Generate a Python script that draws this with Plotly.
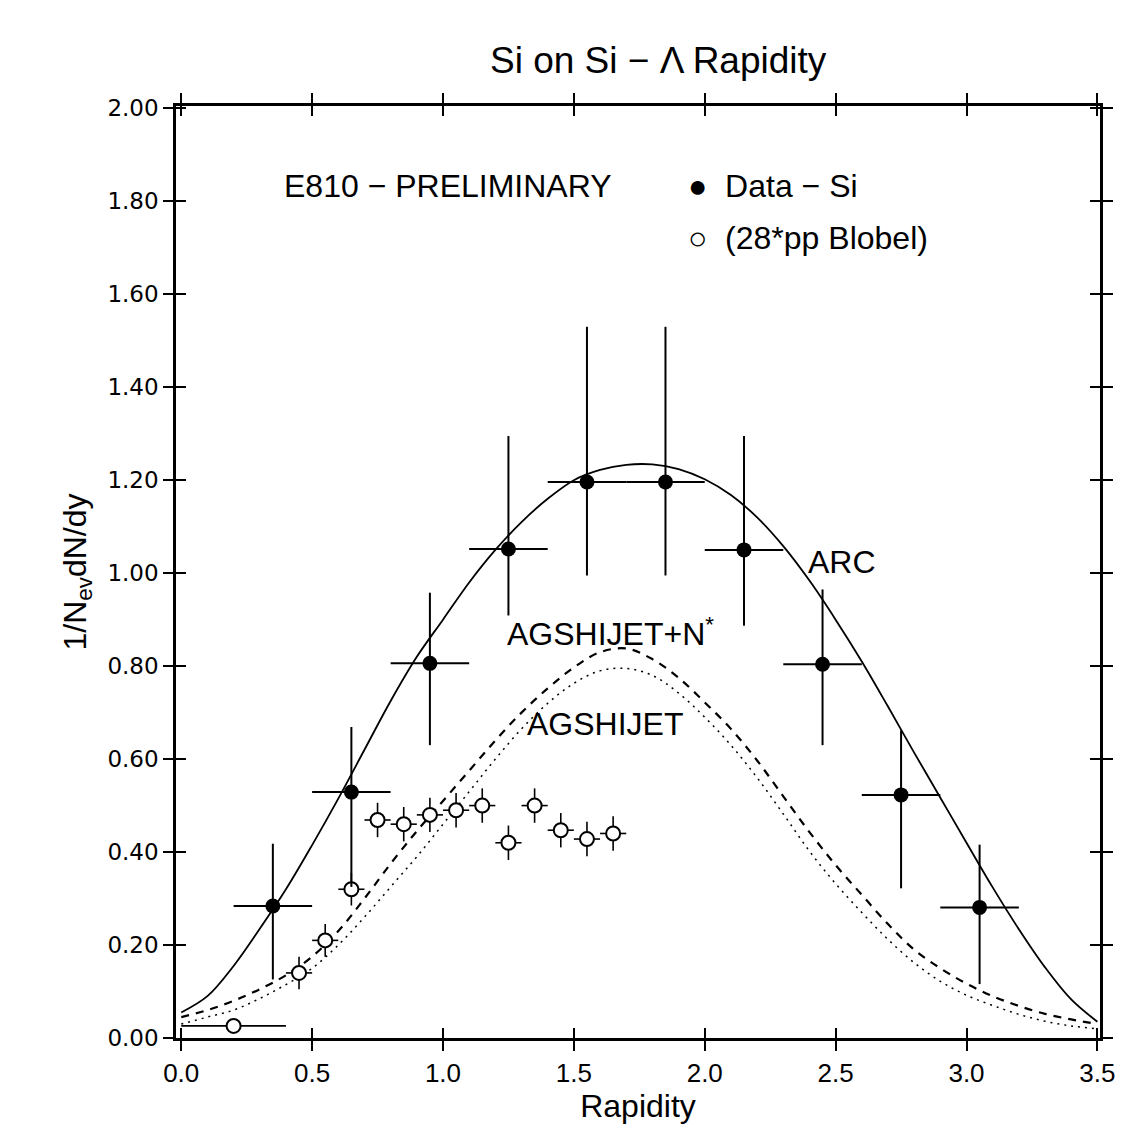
import plotly.graph_objects as go

# ---------------- data ----------------
# Filled points: Data - Si
data_x = [0.35, 0.65, 0.95, 1.25, 1.55, 1.85, 2.15, 2.45, 2.75, 3.05]
data_y = [0.284, 0.529, 0.806, 1.052, 1.196, 1.196, 1.050, 0.804, 0.523, 0.281]
data_err_plus = [0.134, 0.140, 0.152, 0.243, 0.334, 0.334, 0.245, 0.161, 0.139, 0.135]
data_err_minus = [0.158, 0.204, 0.176, 0.143, 0.201, 0.201, 0.163, 0.174, 0.201, 0.165]
data_xerr = [0.15] * 10

# Open points: 28*pp Blobel
pp_x = [0.20, 0.45, 0.55, 0.65, 0.75, 0.85, 0.95, 1.05, 1.15, 1.25, 1.35, 1.45, 1.55, 1.65]
pp_y = [0.026, 0.140, 0.210, 0.320, 0.469, 0.460, 0.480, 0.490, 0.500, 0.420, 0.500, 0.447, 0.428, 0.440]
pp_xerr = [0.20, 0.05, 0.05, 0.05, 0.05, 0.05, 0.05, 0.05, 0.05, 0.05, 0.05, 0.05, 0.05, 0.05]
pp_yerr = [0.0, 0.035, 0.035, 0.035, 0.037, 0.037, 0.037, 0.037, 0.037, 0.037, 0.037, 0.037, 0.037, 0.037]

# Model curves
curve_x = [0.0, 0.1, 0.2, 0.3, 0.4, 0.5, 0.6, 0.7, 0.8, 0.9, 1.0, 1.1, 1.2, 1.3, 1.4, 1.5, 1.6, 1.7,
           1.8, 1.9, 2.0, 2.1, 2.2, 2.3, 2.4, 2.5, 2.6, 2.7, 2.8, 2.9, 3.0, 3.1, 3.2, 3.3, 3.4, 3.5]
arc_y = [0.055, 0.09, 0.155, 0.235, 0.32, 0.415, 0.515, 0.62, 0.725, 0.82, 0.90, 0.98, 1.05, 1.11, 1.16, 1.20, 1.222, 1.233,
         1.234, 1.224, 1.202, 1.168, 1.12, 1.058, 0.984, 0.90, 0.81, 0.713, 0.614, 0.517, 0.42, 0.324, 0.234, 0.152, 0.083, 0.035]
agsn_y = [0.045, 0.06, 0.08, 0.105, 0.135, 0.175, 0.23, 0.30, 0.375, 0.445, 0.51, 0.575, 0.64, 0.70, 0.752, 0.797, 0.83, 0.838,
          0.815, 0.775, 0.722, 0.665, 0.597, 0.52, 0.443, 0.372, 0.308, 0.245, 0.19, 0.15, 0.117, 0.09, 0.069, 0.052, 0.04, 0.03]
ags_y = [0.03, 0.045, 0.06, 0.085, 0.115, 0.15, 0.20, 0.26, 0.325, 0.39, 0.46, 0.53, 0.60, 0.665, 0.72, 0.763, 0.79, 0.795,
         0.78, 0.742, 0.69, 0.63, 0.56, 0.482, 0.402, 0.332, 0.27, 0.212, 0.162, 0.122, 0.092, 0.07, 0.051, 0.036, 0.026, 0.02]

x_ticks = [0.0, 0.5, 1.0, 1.5, 2.0, 2.5, 3.0, 3.5]
x_ticklabels = ["0.0", "0.5", "1.0", "1.5", "2.0", "2.5", "3.0", "3.5"]
y_ticks = [0.0, 0.2, 0.4, 0.6, 0.8, 1.0, 1.2, 1.4, 1.6, 1.8, 2.0]
y_ticklabels = ["0.00", "0.20", "0.40", "0.60", "0.80", "1.00", "1.20", "1.40", "1.60", "1.80", "2.00"]

X_RANGE = [-0.02, 3.51]
Y_RANGE = [0, 2.005]

# ---------------- figure ----------------
fig = go.Figure()

fig.add_trace(go.Scatter(x=curve_x, y=arc_y, mode="lines", line=dict(color="black", width=1.8, shape="spline"),
                         showlegend=False, hoverinfo="skip"))
fig.add_trace(go.Scatter(x=curve_x, y=agsn_y, mode="lines",
                         line=dict(color="black", width=2.2, dash="8px,7px", shape="spline"),
                         showlegend=False, hoverinfo="skip"))
fig.add_trace(go.Scatter(x=curve_x, y=ags_y, mode="lines",
                         line=dict(color="black", width=1.5, dash="2px,5px", shape="spline"),
                         showlegend=False, hoverinfo="skip"))

fig.add_trace(go.Scatter(
    x=pp_x, y=pp_y, mode="markers",
    marker=dict(symbol="circle", size=14, color="white", line=dict(color="black", width=2)),
    error_x=dict(type="data", array=pp_xerr, color="black", thickness=1.6, width=0),
    error_y=dict(type="data", array=pp_yerr, color="black", thickness=1.6, width=0),
    showlegend=False))

fig.add_trace(go.Scatter(
    x=data_x, y=data_y, mode="markers",
    marker=dict(symbol="circle", size=15, color="black"),
    error_x=dict(type="data", array=data_xerr, color="black", thickness=2, width=0),
    error_y=dict(type="data", symmetric=False, array=data_err_plus, arrayminus=data_err_minus,
                 color="black", thickness=2, width=0),
    showlegend=False))

# invisible anchor trace so the overlay axes (inner half of the crossing ticks) are drawn
fig.add_trace(go.Scatter(x=[X_RANGE[0]], y=[Y_RANGE[0]], xaxis="x2", yaxis="y2", mode="markers",
                         marker=dict(opacity=0, size=1), showlegend=False, hoverinfo="skip"))

txt_font = dict(family="Liberation Sans, Arial, sans-serif", size=32, color="black")

annotations = [
    dict(text="Si on Si − Λ Rapidity", xref="paper", yref="paper", x=0.522, y=1.073,
         showarrow=False, font=dict(family="Liberation Sans, Arial, sans-serif", size=37, color="black")),
    dict(text="E810 − PRELIMINARY", xref="x", yref="y", x=1.02, y=1.832, showarrow=False, font=txt_font),
    dict(text="●  Data − Si", xref="x", yref="y", x=1.93, y=1.832, xanchor="left", showarrow=False, font=txt_font),
    dict(text="○  (28*pp Blobel)", xref="x", yref="y", x=1.93, y=1.72, xanchor="left", showarrow=False, font=txt_font),
    dict(text="ARC", xref="x", yref="y", x=2.525, y=1.024, showarrow=False, font=txt_font),
    dict(text="AGSHIJET+N<sup>*</sup>", xref="x", yref="y", x=1.64, y=0.873, showarrow=False, font=txt_font),
    dict(text="AGSHIJET", xref="x", yref="y", x=1.62, y=0.675, showarrow=False, font=txt_font),
]

axis_common = dict(showgrid=False, zeroline=False, showline=True, linecolor="black", linewidth=2.5,
                   ticks="outside", ticklen=10, tickwidth=2, tickcolor="black", mirror="ticks")
inner_common = dict(showticklabels=False, showgrid=False, zeroline=False, showline=False,
                    ticks="inside", ticklen=10, tickwidth=2, tickcolor="black", mirror="ticks")

fig.update_layout(
    width=1131, height=1128,
    margin=dict(l=176, r=31, t=106, b=90),
    paper_bgcolor="white", plot_bgcolor="white",
    showlegend=False,
    annotations=annotations,
    xaxis=dict(range=X_RANGE, tickvals=x_ticks, ticktext=x_ticklabels,
               tickfont=dict(family="Liberation Sans, Arial, sans-serif", size=26, color="black"),
               title=dict(text="Rapidity", font=dict(family="Liberation Sans, Arial, sans-serif", size=32, color="black"),
                          standoff=4),
               **axis_common),
    yaxis=dict(range=Y_RANGE, tickvals=y_ticks, ticktext=y_ticklabels,
               tickfont=dict(family="DejaVu Sans, sans-serif", size=23, color="black"),
               title=dict(text="1/N<sub>ev</sub>dN/dy", font=dict(family="Liberation Sans, Arial, sans-serif", size=32, color="black"),
                          standoff=12),
               **axis_common),
    xaxis2=dict(overlaying="x", anchor="y2", side="bottom", range=X_RANGE, tickvals=x_ticks, **inner_common),
    yaxis2=dict(overlaying="y", anchor="x2", side="left", range=Y_RANGE, tickvals=y_ticks, **inner_common),
)

fig.write_html("out.html")
